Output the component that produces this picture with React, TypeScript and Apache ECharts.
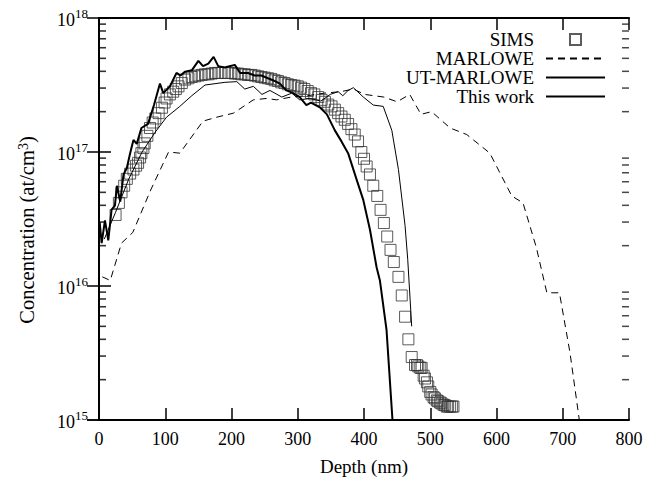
import React, { useEffect, useRef } from "react";
import * as echarts from "echarts";

const FONT = "Liberation Serif";

// SIMS measurement (depth nm, concentration at/cm^3)
const simsDepth = [25, 30, 34, 38, 42, 47, 52, 56, 59, 62, 64, 67, 69, 73, 77, 81, 85, 90, 95, 99, 102, 107, 112, 116, 120, 125, 130, 135, 140, 145, 150, 155, 160, 165, 170, 175, 180, 185, 190, 195, 200, 205, 210, 215, 220, 225, 230, 235, 240, 245, 250, 255, 260, 265, 270, 275, 280, 285, 290, 295, 300, 305, 310, 315, 320, 325, 331, 336, 341, 346, 351, 356, 361, 366, 371, 376, 381, 386, 391, 396, 400, 404, 409, 414, 420, 425, 430, 435, 440, 445, 452, 457, 462, 467, 472, 477, 480, 482, 485, 487, 490, 492, 495, 497, 500, 502, 505, 507, 510, 512, 515, 517, 520, 522, 525, 527, 530, 533, 535];
const simsConc = [3.39e16, 4.17e16, 5.0e16, 5.6e16, 6.3e16, 6.9e16, 7.4e16, 7.9e16, 8.3e16, 9.1e16, 9.8e16, 1.07e17, 1.16e17, 1.32e17, 1.51e17, 1.66e17, 1.78e17, 1.95e17, 2.14e17, 2.34e17, 2.51e17, 2.69e17, 2.82e17, 2.95e17, 3.09e17, 3.27e17, 3.47e17, 3.55e17, 3.63e17, 3.67e17, 3.72e17, 3.76e17, 3.8e17, 3.8e17, 3.85e17, 3.89e17, 3.89e17, 3.89e17, 3.89e17, 3.89e17, 3.89e17, 3.85e17, 3.85e17, 3.8e17, 3.8e17, 3.76e17, 3.76e17, 3.72e17, 3.67e17, 3.63e17, 3.59e17, 3.55e17, 3.51e17, 3.43e17, 3.39e17, 3.31e17, 3.27e17, 3.2e17, 3.16e17, 3.13e17, 3.09e17, 3.02e17, 2.95e17, 2.85e17, 2.75e17, 2.69e17, 2.57e17, 2.45e17, 2.37e17, 2.26e17, 2.19e17, 2.07e17, 1.95e17, 1.84e17, 1.74e17, 1.62e17, 1.48e17, 1.35e17, 1.2e17, 1.0e17, 8.9e16, 7.8e16, 6.8e16, 5.6e16, 4.7e16, 3.7e16, 2.95e16, 2.34e16, 1.86e16, 1.51e16, 1.17e16, 8.5e15, 5.9e15, 4.0e15, 2.95e15, 2.57e15, 2.57e15, 2.51e15, 2.45e15, 2.45e15, 2.14e15, 2.04e15, 1.91e15, 1.78e15, 1.62e15, 1.55e15, 1.48e15, 1.45e15, 1.4e15, 1.38e15, 1.35e15, 1.33e15, 1.3e15, 1.29e15, 1.26e15, 1.26e15, 1.26e15, 1.26e15, 1.26e15];

// MARLOWE simulation
const marloweDepth = [5, 17, 34, 51, 78, 105, 122, 157, 178, 203, 233, 253, 268, 290, 315, 340, 365, 384, 401, 430, 450, 469, 486, 502, 530, 555, 590, 623, 640, 660, 676, 695, 711, 725];
const marloweConc = [1.17e16, 1.1e16, 2.09e16, 2.51e16, 5.2e16, 1.0e17, 9.8e16, 1.7e17, 1.82e17, 1.95e17, 2.45e17, 2.51e17, 2.45e17, 2.57e17, 2.63e17, 2.75e17, 2.82e17, 2.95e17, 2.69e17, 2.57e17, 2.37e17, 2.69e17, 1.91e17, 2.0e17, 1.51e17, 1.35e17, 9.8e16, 4.7e16, 4.17e16, 1.95e16, 8.9e15, 8.9e15, 3.16e15, 1.0e15];

// UT-MARLOWE simulation
const utDepth = [8, 25, 45, 65, 85, 102, 122, 140, 160, 190, 208, 220, 233, 246, 258, 276, 291, 303, 318, 335, 349, 361, 368, 376, 384, 399, 414, 429, 442, 452, 462, 466, 472];
const utConc = [2.24e16, 3.55e16, 6.3e16, 1.0e17, 1.41e17, 1.82e17, 2.19e17, 2.63e17, 3.16e17, 3.31e17, 3.35e17, 2.95e17, 3.09e17, 2.69e17, 2.88e17, 2.57e17, 2.75e17, 2.45e17, 2.51e17, 2.4e17, 2.69e17, 2.82e17, 2.63e17, 2.88e17, 3.02e17, 2.57e17, 2.24e17, 2.19e17, 1.45e17, 7.4e16, 2.82e16, 1.58e16, 5.0e15];

// This work
const workDepth = [1, 4, 9, 14, 19, 24, 27, 32, 37, 42, 47, 52, 57, 64, 74, 83, 92, 97, 107, 117, 123, 130, 140, 150, 157, 165, 173, 180, 190, 197, 205, 213, 225, 235, 245, 255, 265, 273, 283, 293, 303, 313, 320, 334, 344, 356, 366, 376, 389, 399, 409, 419, 424, 434, 443];
const workConc = [3.0e16, 2.09e16, 3.09e16, 2.19e16, 3.72e16, 3.98e16, 5.6e16, 4.27e16, 6.8e16, 7.6e16, 9.8e16, 1.23e17, 1.15e17, 1.51e17, 1.62e17, 2.24e17, 3.24e17, 2.75e17, 3.09e17, 3.89e17, 3.72e17, 3.98e17, 4.07e17, 4.79e17, 4.37e17, 4.57e17, 5.13e17, 4.37e17, 4.27e17, 4.37e17, 4.47e17, 3.89e17, 3.89e17, 3.72e17, 3.72e17, 3.55e17, 3.39e17, 3.24e17, 2.88e17, 2.75e17, 2.57e17, 2.24e17, 2.34e17, 2.14e17, 1.91e17, 1.45e17, 1.2e17, 9.8e16, 6.2e16, 4.37e16, 2.63e16, 1.38e16, 1.1e16, 4.7e15, 1.0e15];

// minor tick positions of the log axis
const minorTicks = [2e15, 3e15, 4e15, 5e15, 6e15, 7e15, 8e15, 9e15, 2e16, 3e16, 4e16, 5e16, 6e16, 7e16, 8e16, 9e16, 2e17, 3e17, 4e17, 5e17, 6e17, 7e17, 8e17, 9e17];
const xMin = 0;
const xMax = 800;

const zip = (a: number[], b: number[]) => a.map((v, i) => [v, b[i]]);

export default function App() {
  const ref = useRef<HTMLDivElement>(null);
  useEffect(() => {
    if (!ref.current) return;
    const chart = echarts.init(ref.current, null, { renderer: "svg" });
    const axisLine = { show: true, lineStyle: { color: "#000", width: 2 } };
    const tickStyle = { color: "#000", width: 1.5 };
    const hiddenDot = { opacity: 0 };
    const tickSeries = (x: number, offset: number, color: string, h: number) => ({
      type: "scatter",
      silent: true,
      clip: false,
      z: 6,
      symbol: "rect",
      symbolSize: [7, h],
      symbolOffset: [offset, 0],
      itemStyle: { color },
      data: minorTicks.map((v) => [x, v]),
    });
    chart.setOption({
      animation: false,
      backgroundColor: "#fff",
      textStyle: { fontFamily: FONT },
      grid: { left: 99, right: 25, top: 18, bottom: 63, containLabel: false },
      legend: {
        orient: "vertical",
        align: "right",
        right: 48,
        top: 30,
        padding: 0,
        itemGap: 0,
        itemWidth: 59,
        itemHeight: 11,
        symbolKeepAspect: true,
        textStyle: { fontFamily: FONT, fontSize: 19, color: "#000", lineHeight: 19, padding: [0, 7, 0, 0] },
        data: [
          { name: "SIMS", icon: "path://M0 0H10V10H0Z" },
          { name: "MARLOWE", itemStyle: hiddenDot },
          { name: "UT-MARLOWE", itemStyle: hiddenDot },
          { name: "This work", itemStyle: hiddenDot },
        ],
      },
      xAxis: [
        {
          type: "value",
          min: xMin,
          max: xMax,
          interval: 100,
          name: "Depth (nm)",
          nameLocation: "middle",
          nameGap: 37,
          nameTextStyle: { fontFamily: FONT, fontSize: 19, color: "#000" },
          axisLine,
          axisTick: { show: true, inside: true, length: 12, lineStyle: tickStyle },
          axisLabel: { fontFamily: FONT, fontSize: 18, color: "#000", margin: 10 },
          splitLine: { show: false },
        },
        {
          type: "value",
          position: "top",
          min: xMin,
          max: xMax,
          interval: 100,
          axisLine,
          axisTick: { show: true, inside: true, length: 12, lineStyle: tickStyle },
          axisLabel: { show: false },
          splitLine: { show: false },
        },
      ],
      yAxis: [
        {
          type: "log",
          logBase: 10,
          min: 1e15,
          max: 1e18,
          name: "Concentration (at/cm{sup|3}){pad|}",
          nameLocation: "middle",
          nameGap: 62,
          nameTextStyle: {
            fontFamily: FONT,
            fontSize: 20.5,
            color: "#000",
            rich: {
              sup: { fontFamily: FONT, fontSize: 14, color: "#000", verticalAlign: "top" },
              pad: { width: 22 },
            },
          },
          axisLine,
          axisTick: { show: true, inside: true, length: 12, lineStyle: tickStyle },
          axisLabel: {
            margin: 11,
            formatter: (v: number) => "{b|10}{s|" + Math.round(Math.log10(v)) + "}",
            rich: {
              b: { fontFamily: FONT, fontSize: 18, color: "#000", lineHeight: 22, verticalAlign: "bottom" },
              s: { fontFamily: FONT, fontSize: 13, color: "#000", verticalAlign: "top" },
            },
          },
          splitLine: { show: false },
        },
        {
          type: "log",
          logBase: 10,
          min: 1e15,
          max: 1e18,
          position: "right",
          axisLine,
          axisTick: { show: true, inside: true, length: 12, lineStyle: tickStyle },
          axisLabel: { show: false },
          splitLine: { show: false },
        },
      ],
      series: [
        {
          name: "SIMS",
          type: "scatter",
          symbol: "rect",
          symbolSize: 11,
          data: zip(simsDepth, simsConc),
          itemStyle: { color: "rgba(0,0,0,0)", borderColor: "#333", borderWidth: 1 },
          z: 3,
        },
        {
          name: "MARLOWE",
          type: "line",
          showSymbol: false,
          symbol: "none",
          data: zip(marloweDepth, marloweConc),
          lineStyle: { color: "#000", width: 1, type: [7, 5] },
          itemStyle: { color: "#000" },
          z: 4,
        },
        {
          name: "UT-MARLOWE",
          type: "line",
          showSymbol: false,
          symbol: "none",
          data: zip(utDepth, utConc),
          lineStyle: { color: "#000", width: 1 },
          itemStyle: { color: "#000" },
          z: 4,
        },
        {
          name: "This work",
          type: "line",
          showSymbol: false,
          symbol: "none",
          data: zip(workDepth, workConc),
          lineStyle: { color: "#000", width: 2 },
          itemStyle: { color: "#000" },
          z: 5,
        },
        { name: "minorLeft", ...tickSeries(xMin, 3.5, "#000", 1.6) },
        { name: "minorRight", ...tickSeries(xMax, -3.5, "#1a1a1a", 1.5) },
      ],
    });
    return () => chart.dispose();
  }, []);
  return <div ref={ref} style={{ width: 654, height: 483, position: "absolute", left: 0, top: 0 }} />;
}
